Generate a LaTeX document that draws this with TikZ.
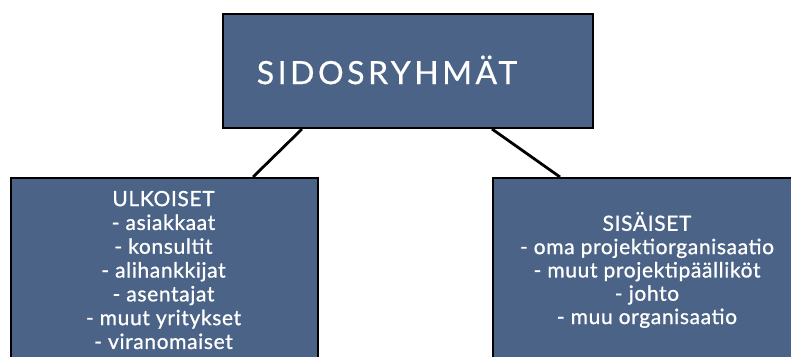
\documentclass[tikz,border=0pt]{standalone}
\usepackage{fontspec}
\setmainfont{Lato}
\newfontfamily\titlefont[LetterSpace=11,FakeBold=0.6]{Lato}
\newfontfamily\bodyfont[LetterSpace=3,FakeBold=0.9]{Lato}
\definecolor{boxblue}{RGB}{75,99,134}
\begin{document}
\begin{tikzpicture}[x=1pt,y=-1pt,
  panel/.style={draw=black,line width=2pt,fill=boxblue},
  txt/.style={text=white,align=center,inner sep=0pt},
  link/.style={draw=black,line width=2.8pt}]
\useasboundingbox (0,0) rectangle (791,356);
\clip (0,0) rectangle (791,356);
\fill[white] (0,0) rectangle (791,356);
\node[panel,minimum width=370pt,minimum height=114pt,anchor=north west,inner sep=0pt] (top) at (222,13) {};
\node[panel,minimum width=307pt,minimum height=186pt,anchor=north west,inner sep=0pt] (left) at (10,177) {};
\node[panel,minimum width=310pt,minimum height=186pt,anchor=north west,inner sep=0pt] (right) at (492,177) {};
\node[txt,font=\titlefont\fontsize{32}{36}\selectfont] (title) at (387,70) {SIDOSRYHMÄT};
\node[txt,font=\bodyfont\fontsize{21}{23.8}\selectfont] (lt) at (163.5,270) {ULKOISET\\- asiakkaat\\- konsultit\\- alihankkijat\\- asentajat\\- muut yritykset\\- viranomaiset};
\node[txt,font=\bodyfont\fontsize{21}{23.3}\selectfont] (rt) at (647,270) {SISÄISET\\- oma projektiorganisaatio\\- muut projektipäälliköt\\- johto\\- muu organisaatio};
\draw[link] ([xshift=80pt]top.south west) -- ([xshift=243pt]left.north west);
\draw[link] ([xshift=270pt]top.south west) -- ([xshift=68pt]right.north west);
\end{tikzpicture}
\end{document}
